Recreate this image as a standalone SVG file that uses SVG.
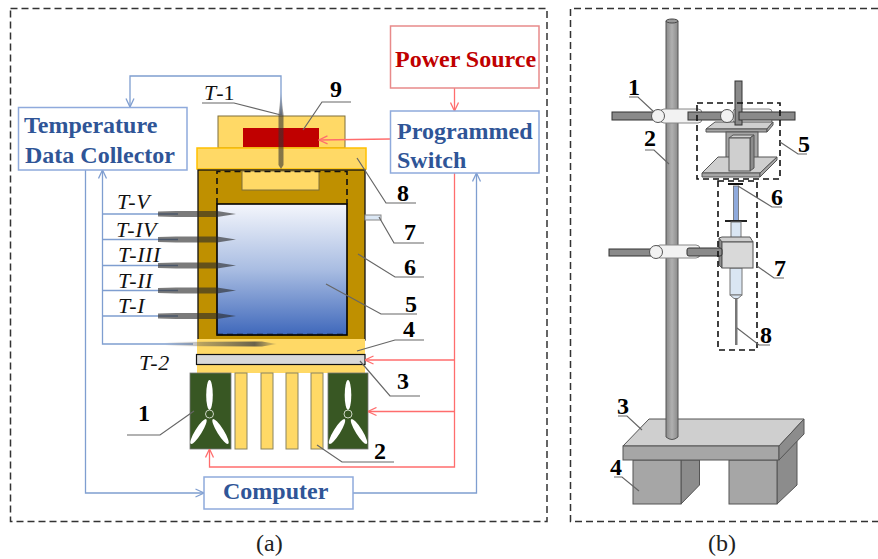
<svg xmlns="http://www.w3.org/2000/svg" xmlns:xlink="http://www.w3.org/1999/xlink" width="878" height="559" viewBox="0 0 878 559">
<style>
.frame{fill:none;stroke:#333;stroke-width:1.5;stroke-dasharray:7 4}
.bx{fill:#fff;stroke:#8faadc;stroke-width:1.5}
.bt{font:bold 24px "Liberation Serif",serif;fill:#2f5597}
.rt{font:bold 24px "Liberation Serif",serif;fill:#c00000}
.it{font:italic 22px "Liberation Serif",serif;fill:#111;letter-spacing:.6px}
.num{font:bold 24px "Liberation Serif",serif;fill:#000}
.cap{font:24px "Liberation Serif",serif;fill:#222}
.lead{fill:none;stroke:#666;stroke-width:1.2}
.blue{fill:none;stroke:#7f9ed0;stroke-width:1.3}
.red{fill:none;stroke:#ff6d6d;stroke-width:1.3}
.y{fill:#ffd966}
.probe{fill:#2a2a2a;fill-opacity:.62}
.dk{fill:none;stroke:#111;stroke-width:1.6;stroke-dasharray:6 4}
.g1{fill:#a6a6a6;stroke:#555;stroke-width:1}
.g2{fill:#8c8c8c;stroke:#555;stroke-width:1}
.g3{fill:#cfcfcf;stroke:#555;stroke-width:1}
.rod{fill:#8a8a8a;stroke:#333;stroke-width:1}
.wh{fill:#f2f2f2;stroke:#888;stroke-width:1}
.ly{fill:#dae6f3;stroke:#777;stroke-width:1}
</style>
<defs>
<linearGradient id="liq" x1="0" y1="0" x2="0" y2="1"><stop offset="0" stop-color="#f4f6fc"/><stop offset=".5" stop-color="#a9bde2"/><stop offset="1" stop-color="#3f68bb"/></linearGradient>
<linearGradient id="t2" x1="0" y1="0" x2="1" y2="0"><stop offset="0" stop-color="#555" stop-opacity="0"/><stop offset=".35" stop-color="#555" stop-opacity=".45"/><stop offset=".8" stop-color="#444" stop-opacity=".8"/><stop offset="1" stop-color="#444" stop-opacity=".1"/></linearGradient>
<linearGradient id="t1" x1="0" y1="0" x2="0" y2="1"><stop offset="0" stop-color="#444" stop-opacity="0"/><stop offset=".3" stop-color="#333" stop-opacity=".6"/><stop offset="1" stop-color="#333" stop-opacity=".6"/></linearGradient>
<linearGradient id="rodg" x1="0" y1="0" x2="1" y2="0"><stop offset="0" stop-color="#8a8a8a"/><stop offset=".5" stop-color="#b0b0b0"/><stop offset="1" stop-color="#8a8a8a"/></linearGradient>
<marker id="ab" viewBox="0 0 10 10" refX="9.5" refY="5" markerWidth="10" markerHeight="10" markerUnits="userSpaceOnUse" orient="auto"><path d="M1 1L9.5 5L1 9" fill="none" stroke="#7f9ed0" stroke-width="1.3"/></marker>
<marker id="ar" viewBox="0 0 10 10" refX="9.5" refY="5" markerWidth="10" markerHeight="10" markerUnits="userSpaceOnUse" orient="auto"><path d="M1 1L9.5 5L1 9" fill="none" stroke="#ff6d6d" stroke-width="1.3"/></marker>
<polygon id="pr" class="probe" points="158,-2.500 176,-3 217,-3 236,0 217,3 176,3 158,2.500"/>
<g id="blades"><ellipse cx="0" cy="-19" rx="3.300" ry="15" fill="#fff"/><ellipse cx="-11" cy="17.500" rx="3.300" ry="14.500" fill="#fff" transform="rotate(32 -11 17.500)"/><ellipse cx="11" cy="17.500" rx="3.300" ry="14.500" fill="#fff" transform="rotate(-32 11 17.500)"/><circle r="4" fill="#385723" stroke="#cdd6c5" stroke-width="1"/></g>
</defs>

<rect class="frame" x="10.500" y="8.500" width="536.500" height="513"/>
<path class="frame" d="M878 8.500H570.500V521.500H878"/>

<g id="apparatus-a">
<rect x="218" y="116" width="127" height="32" fill="#ffd966" stroke="#7f6f3a" stroke-width="1"/>
<rect x="243" y="128" width="76" height="19" fill="#c00000"/>
<rect x="197" y="148" width="169" height="21" fill="#ffd966" stroke="#ffc000" stroke-width="1.500"/>
<rect x="198" y="170" width="167" height="170" fill="#bf9000" stroke="#111" stroke-width="1.300"/>
<rect x="242" y="171" width="77" height="19" fill="#ffd966" stroke="#7f6f3a" stroke-width="1"/>
<rect x="217" y="204" width="130" height="131" fill="url(#liq)" stroke="#000" stroke-width="1.600"/>
<path class="dk" d="M217 204V171.500H347V204"/>
<path class="dk" d="M217 334.500H347" stroke-width="1"/>
<rect x="197" y="339" width="168" height="34" class="y"/>
<rect x="196.500" y="354.500" width="168.500" height="10" fill="#d9d9d9" stroke="#111" stroke-width="1.200"/>
<rect x="365" y="215" width="16" height="5" fill="#dbe7f4" stroke="#888" stroke-width="1"/>
<g fill="#ffd966" stroke="#8a8460" stroke-width="1"><rect x="235" y="373" width="12" height="76"/><rect x="261" y="373" width="12" height="76"/><rect x="286" y="373" width="12" height="76"/><rect x="311" y="373" width="12" height="76"/></g>
</g>
<g id="fan-left"><rect x="190" y="373" width="41" height="76" fill="#385723" stroke="#777" stroke-width=".8"/><use xlink:href="#blades" x="209.500" y="414"/></g>
<g id="fan-right"><rect x="328" y="373" width="40" height="76" fill="#385723" stroke="#777" stroke-width=".8"/><use xlink:href="#blades" x="348" y="414"/></g>

<g id="connectors">
<path class="blue" d="M281 115V76H130V107" marker-end="url(#ab)"/>
<path class="blue" d="M85.500 170V493H204" marker-end="url(#ab)"/>
<path class="blue" d="M193 344H102.500V170" marker-end="url(#ab)"/>
<path class="blue" d="M102.500 214H178M102.500 239.500H178M102.500 265.500H178M102.500 290.500H178M102.500 316H178"/>
<path class="blue" d="M353 493H476.500V173" marker-end="url(#ab)"/>
<path class="red" d="M454.500 88V111" marker-end="url(#ar)"/>
<path class="red" d="M390 139L319 140" marker-end="url(#ar)"/>
<path class="red" d="M454.500 173V467H209.500V449" marker-end="url(#ar)"/>
<path class="red" d="M454.500 360H365" marker-end="url(#ar)"/>
<path class="red" d="M454.500 411.500H368" marker-end="url(#ar)"/>
</g>

<g id="probes">
<use xlink:href="#pr" y="214"/><use xlink:href="#pr" y="239.500"/><use xlink:href="#pr" y="265.500"/><use xlink:href="#pr" y="290.500"/><use xlink:href="#pr" y="316"/>
<polygon points="165,342 262,341.500 277,344 262,346.500 165,346" fill="url(#t2)"/>
<polygon points="281,91 283.500,115 283.500,165 281,169 278.500,165 278.500,115" fill="url(#t1)"/>
</g>

<g id="temperature-data-collector"><rect class="bx" x="18.500" y="107.500" width="168.500" height="62.500"/><text class="bt" x="24" y="133">Temperature</text><text class="bt" x="25" y="163">Data Collector</text></g>
<g id="power-source"><rect x="390.500" y="26" width="148.500" height="62" fill="#fff" stroke="#e88a8a" stroke-width="1.500"/><text class="rt" x="395" y="67">Power Source</text></g>
<g id="programmed-switch"><rect class="bx" x="390.500" y="111" width="148.500" height="62"/><text class="bt" x="397" y="139">Programmed</text><text class="bt" x="397" y="168">Switch</text></g>
<g id="computer"><rect class="bx" x="204" y="477" width="149" height="32"/><text class="bt" x="223" y="499">Computer</text></g>

<g id="labels-a">
<text class="it" x="117" y="209">T-V</text><text class="it" x="116" y="237">T-IV</text><text class="it" x="118" y="262">T-III</text><text class="it" x="118" y="287.500">T-II</text><text class="it" x="118" y="313">T-I</text>
<text class="it" x="139" y="370">T-2</text><text x="204" y="100" style="font:22px 'Liberation Serif',serif;fill:#111"><tspan font-style="italic">T</tspan>-1</text>
<path class="lead" d="M202 103H234L281 115M303 130L322 102H351M357 158L386 203H416M379 217L394 243H424M358 254L395 277H424M326 284L381 314H417M357 351L395 340H424M360 361L390 396H420M317 445L342 462H394M194 411L160 435H127"/>
<text class="num" x="330" y="97">9</text><text class="num" x="397" y="201">8</text><text class="num" x="404" y="240">7</text><text class="num" x="404" y="275">6</text><text class="num" x="405" y="312">5</text><text class="num" x="403" y="337">4</text><text class="num" x="397" y="389">3</text><text class="num" x="374" y="459">2</text><text class="num" x="138" y="421">1</text>
</g>
<text class="cap" x="256" y="551">(a)</text>
<text class="cap" x="708" y="551">(b)</text>

<g id="stand-base">
<path class="g2" d="M681 460H699.500V485L681 504Z"/><path class="g2" d="M777 460L797 441V485L777 504Z"/>
<rect class="g1" x="633" y="460" width="48" height="44"/><rect class="g1" x="729" y="460" width="48" height="44"/>
<path class="g3" d="M623 446L649 419H804L779 446Z"/><rect class="g1" x="623" y="446" width="156" height="14"/><path class="g2" d="M779 446L804 419V434L779 460Z"/>
</g>
<g id="stand-pole">
<path d="M666 21V437Q672 442 678 437V21Z" fill="url(#rodg)" stroke="#555" stroke-width="1"/>
<ellipse cx="672" cy="21" rx="6" ry="2" fill="#999" stroke="#444" stroke-width="1"/>
</g>
<g id="upper-clamp">
<rect class="wh" x="733" y="109" width="39" height="14" rx="3"/>
<path class="g3" d="M706 129H767L773 122H715Z"/><path class="g1" d="M706 129H767V132H706Z"/><path class="g1" d="M767 129L773 122V125L767 132Z"/>
<rect class="rod" x="735" y="81" width="7" height="44"/>
<rect class="wh" x="660" y="109" width="42" height="14" rx="4"/>
<rect class="rod" x="612" y="112" width="41" height="8"/><rect class="rod" x="688" y="112" width="35" height="8"/><rect class="rod" x="739" y="112" width="56" height="8"/>
<circle cx="658" cy="116" r="6.500" fill="#f2f2f2" stroke="#555"/><circle cx="727" cy="116" r="6.500" fill="#f2f2f2" stroke="#555"/>
<rect class="g1" x="726" y="132" width="32" height="31"/>
<path class="g3" d="M702 173H760L777 157H718Z"/><path class="g1" d="M702 173H760V177H702Z"/><path class="g1" d="M760 173L777 157V160L760 177Z"/>
<path class="g3" d="M729 138L733 135H754L750 138Z"/><path class="g2" d="M750 138L754 135V168L750 171Z"/><rect class="g3" x="729" y="138" width="21" height="33"/>
</g>
<g id="syringe">
<rect x="728" y="183" width="15" height="2" fill="#111"/>
<rect x="733.500" y="186" width="5" height="35" fill="#8faadc" stroke="#666" stroke-width=".8"/>
<rect x="725" y="220" width="22" height="2" fill="#222"/>
<rect class="ly" x="731" y="222" width="10" height="18"/>
<rect class="ly" x="730" y="268" width="12" height="27"/><path class="ly" d="M730 295L734 298.500H738L742 295Z"/>
<rect x="735" y="298" width="2.500" height="47" fill="#777"/>
<path class="g2" d="M719 238L722 242V268L719 265Z"/><path class="g3" d="M719 238L722 237H750L753 242H722Z"/><rect x="722" y="242" width="31" height="26" fill="#d9d9d9" stroke="#555"/>
</g>
<g id="lower-clamp">
<rect class="wh" x="656" y="245" width="44" height="13" rx="4"/>
<rect class="rod" x="609" y="249" width="42" height="7"/><rect class="rod" x="687" y="248" width="35" height="8" rx="2"/>
<circle cx="656" cy="252" r="6.500" fill="#f2f2f2" stroke="#555"/>
</g>
<g id="labels-b">
<rect class="dk" x="697" y="103" width="83" height="76"/><rect class="dk" x="718" y="181" width="39" height="169"/>
<path class="lead" d="M629 97H638L654 112M645 150H654L669 164M780 142L798 154H807M738 186L772 207H782M757 266L774 278H784M737 328L759 345H770M618 416H627L642 430M614 477H622L639 491"/>
<text class="num" x="628" y="95">1</text><text class="num" x="644" y="146">2</text><text class="num" x="798" y="152">5</text><text class="num" x="771" y="205">6</text><text class="num" x="774" y="276">7</text><text class="num" x="760" y="343">8</text><text class="num" x="617" y="414">3</text><text class="num" x="610" y="475">4</text>
</g>
</svg>
